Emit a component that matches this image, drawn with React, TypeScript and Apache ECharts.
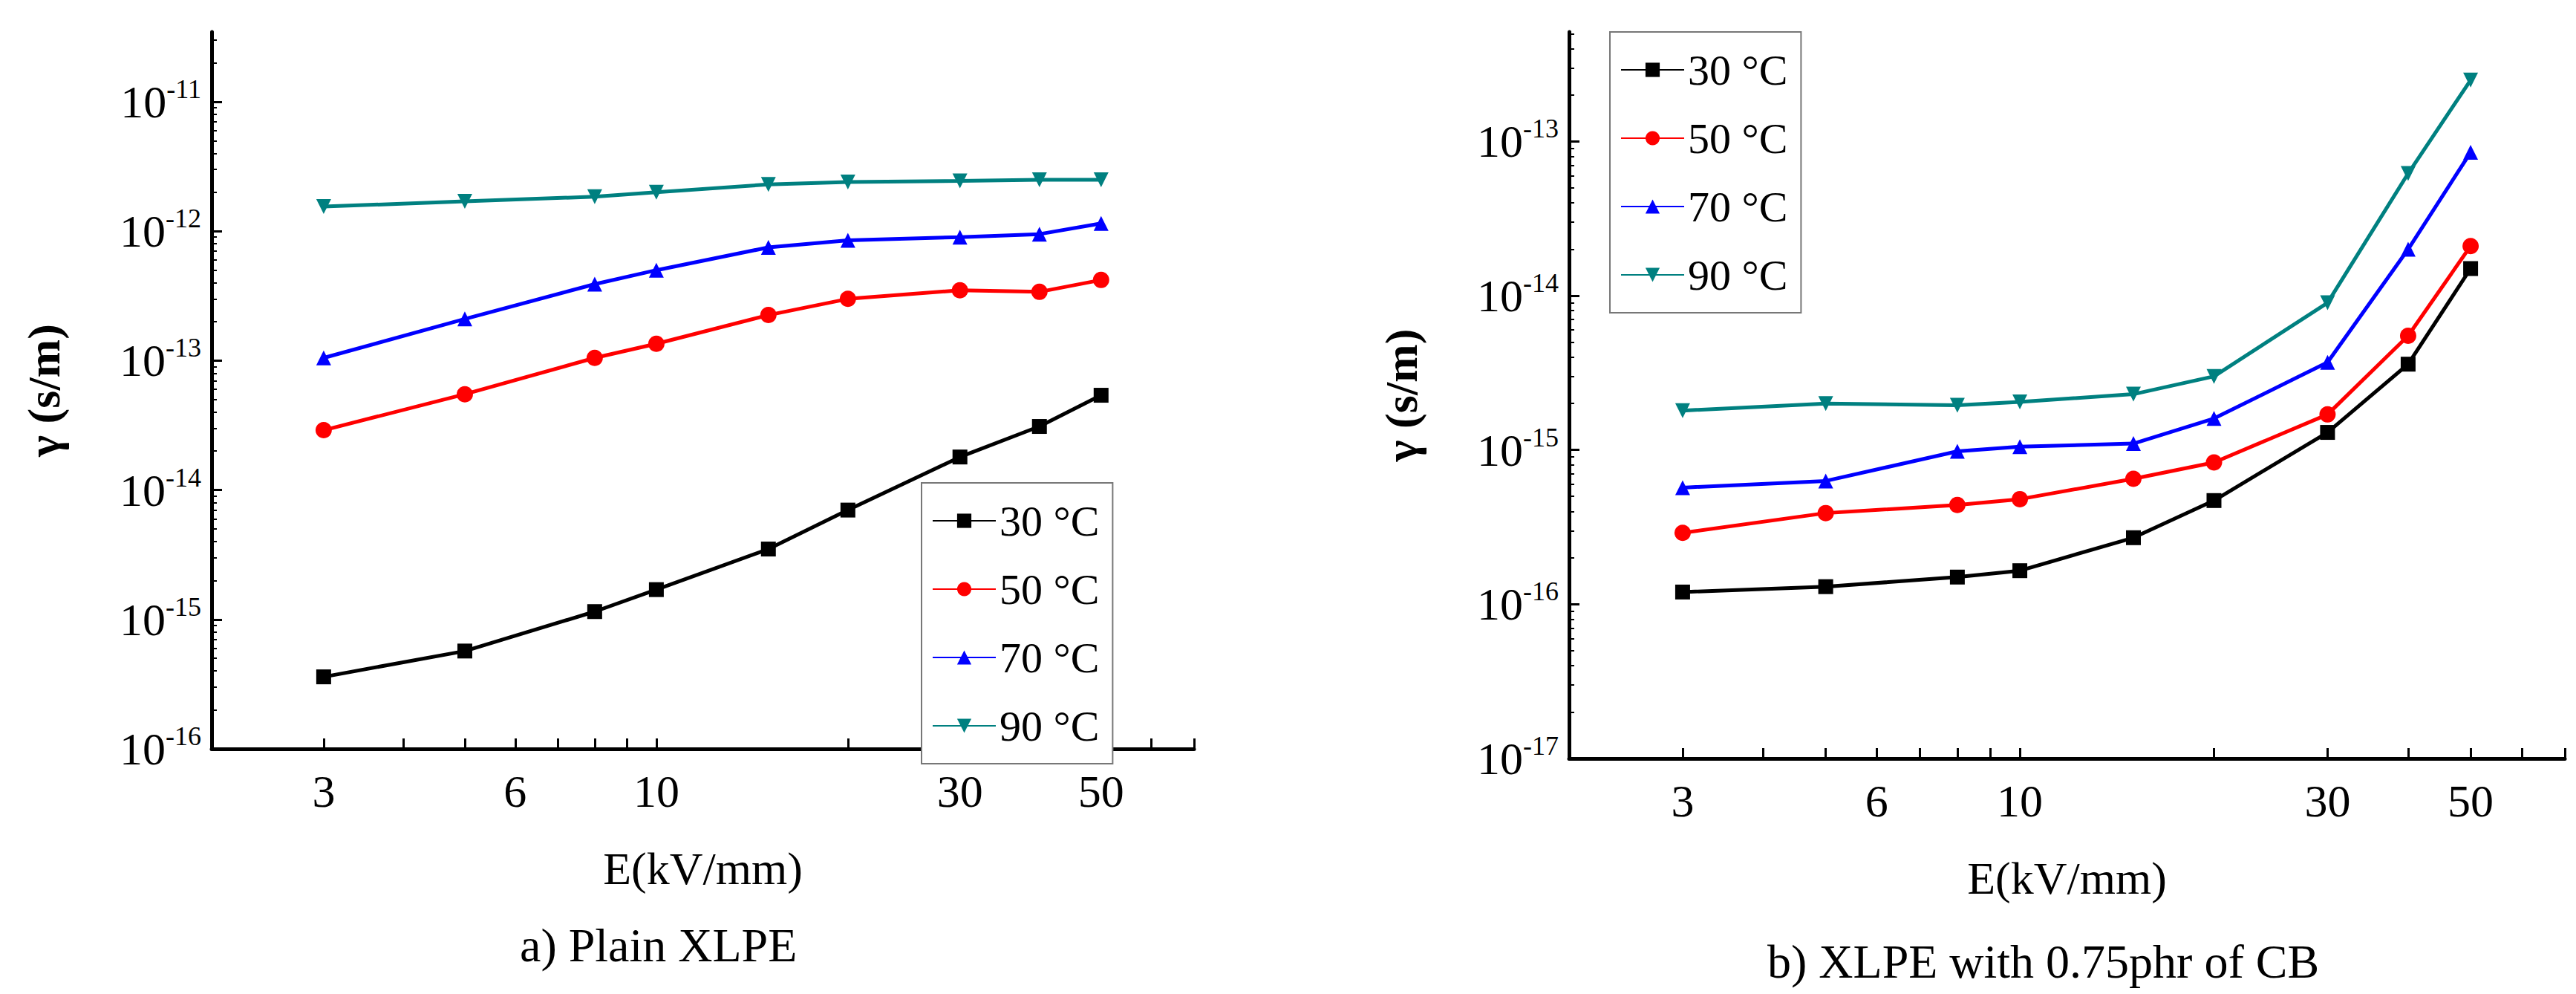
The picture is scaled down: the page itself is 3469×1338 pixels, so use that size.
import { useEffect, useRef } from "react";
import * as echarts from "echarts";

const fields = [3, 5, 8, 10, 15, 20, 30, 40, 50];
const temps = ["30 °C", "50 °C", "70 °C", "90 °C"];
const colors = ["#000000", "#ff0000", "#0000ff", "#008080"];
const symbols = ["rect", "circle", "triangle", "path://M0,0 L10,0 L5,10 Z"];

const plainXlpe = [
  [3.6e-16, 5.7e-16, 1.15e-15, 1.7e-15, 3.5e-15, 7e-15, 1.8e-14, 3.1e-14, 5.4e-14],
  [2.9e-14, 5.5e-14, 1.05e-13, 1.35e-13, 2.25e-13, 3e-13, 3.5e-13, 3.4e-13, 4.2e-13],
  [1.05e-13, 2.1e-13, 3.9e-13, 5e-13, 7.5e-13, 8.5e-13, 9e-13, 9.5e-13, 1.15e-12],
  [1.55e-12, 1.7e-12, 1.85e-12, 2e-12, 2.3e-12, 2.4e-12, 2.45e-12, 2.5e-12, 2.5e-12],
];
const xlpeCb = [
  [1.2e-16, 1.3e-16, 1.5e-16, 1.65e-16, 2.7e-16, 4.7e-16, 1.3e-15, 3.6e-15, 1.5e-14],
  [2.9e-16, 3.9e-16, 4.4e-16, 4.8e-16, 6.5e-16, 8.3e-16, 1.7e-15, 5.5e-15, 2.1e-14],
  [5.7e-16, 6.3e-16, 9.8e-16, 1.05e-15, 1.1e-15, 1.6e-15, 3.7e-15, 2e-14, 8.5e-14],
  [1.8e-15, 2e-15, 1.95e-15, 2.05e-15, 2.3e-15, 3e-15, 9e-15, 6.2e-14, 2.5e-13],
];
const xLabels = [3, 6, 10, 30, 50];
const xTicks = [2, 3, 4, 5, 6, 7, 8, 9, 10, 20, 30, 40, 50, 60, 70];
const yLabelsA = [1e-16, 1e-15, 1e-14, 1e-13, 1e-12, 1e-11];
const yLabelsB = [1e-17, 1e-16, 1e-15, 1e-14, 1e-13];

const FONT = "Liberation Serif";

function xAxis(gridIndex: number) {
  return {
    type: "log" as const,
    gridIndex,
    min: 2,
    max: 70,
    name: "E(kV/mm)",
    nameLocation: "middle" as const,
    nameGap: 130,
    nameTextStyle: { fontFamily: FONT, fontSize: 62, color: "#000" },
    axisLine: { lineStyle: { color: "#000", width: 5 } },
    axisTick: { inside: true, length: 14, lineStyle: { width: 3, color: "#000" }, customValues: xTicks },
    axisLabel: { fontFamily: FONT, fontSize: 62, color: "#000", margin: 26, customValues: xLabels, formatter: (v: number) => String(Math.round(v)) },
    splitLine: { show: false },
  };
}

function yAxis(gridIndex: number, min: number, max: number, labels: number[]) {
  return {
    type: "log" as const,
    gridIndex,
    min,
    max,
    name: "γ (s/m)",
    nameLocation: "middle" as const,
    nameGap: 195,
    nameTextStyle: { fontFamily: FONT, fontSize: 62, fontWeight: "bold", color: "#000" },
    axisLine: { show: true, lineStyle: { color: "#000", width: 5 } },
    axisTick: { inside: true, length: 14, lineStyle: { width: 3, color: "#000" }, customValues: labels },
    minorTick: { show: true, splitNumber: 9, length: 7, lineStyle: { color: "#000", width: 2 } },
    axisLabel: {
      margin: 14,
      customValues: labels,
      formatter: (v: number) => `{b|10}{s|${Math.round(Math.log10(v))}}`,
      rich: {
        b: { fontFamily: FONT, fontSize: 62, color: "#000" },
        s: { fontFamily: FONT, fontSize: 36, color: "#000", verticalAlign: "top", padding: [0, 0, 34, 0] },
      },
    },
    splitLine: { show: false },
  };
}

function makeSeries(data: number[][], idx: number, suffix: string) {
  return data.map((vals, i) => ({
    name: temps[i] + suffix,
    type: "line" as const,
    xAxisIndex: idx,
    yAxisIndex: idx,
    data: fields.map((f, j) => [f, vals[j]]),
    symbol: symbols[i],
    symbolSize: i === 1 ? 22 : 20,
    color: colors[i],
    lineStyle: { width: 5, color: colors[i] },
  }));
}

function makeLegend(suffix: string, left: number, top: number) {
  return {
    data: temps.map((t) => t + suffix),
    orient: "vertical" as const,
    left,
    top,
    itemWidth: 85,
    itemHeight: 24,
    itemGap: 34,
    padding: [22, 18, 22, 14],
    borderColor: "#777",
    borderWidth: 2,
    backgroundColor: "#fff",
    formatter: (n: string) => n.trim(),
    textStyle: { fontFamily: FONT, fontSize: 58, color: "#000" },
  };
}

export default function App() {
  const ref = useRef<HTMLDivElement | null>(null);

  useEffect(() => {
    if (!ref.current) return;
    const chart = echarts.init(ref.current, undefined, { renderer: "svg" });
    chart.setOption({
      animation: false,
      backgroundColor: "#fff",
      grid: [
        { left: 285, top: 43, width: 1323, height: 965 },
        { left: 2113, top: 43, width: 1341, height: 978 },
      ],
      xAxis: [xAxis(0), xAxis(1)],
      yAxis: [
        yAxis(0, 1e-16, Math.pow(10, -10.46), yLabelsA),
        yAxis(1, 1e-17, Math.pow(10, -12.29), yLabelsB),
      ],
      legend: [makeLegend("", 1241, 650), makeLegend(" ", 2168, 43)],
      series: [...makeSeries(plainXlpe, 0, ""), ...makeSeries(xlpeCb, 1, " ")],
      graphic: [
        { type: "text", left: 700, top: 1240, style: { text: "a) Plain XLPE", font: `64px '${FONT}'`, fill: "#000" } },
        { type: "text", left: 2380, top: 1262, style: { text: "b) XLPE with 0.75phr of CB", font: `64px '${FONT}'`, fill: "#000" } },
      ],
    });
    return () => chart.dispose();
  }, []);

  return <div ref={ref} style={{ position: "fixed", left: 0, top: 0, width: 3469, height: 1338 }} />;
}
